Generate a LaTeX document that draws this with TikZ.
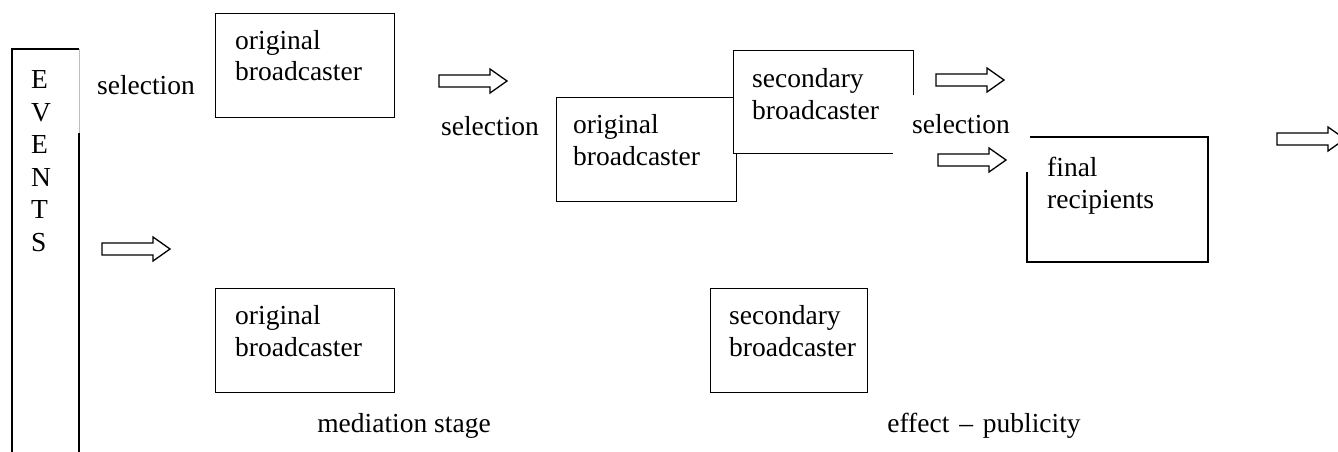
\documentclass[tikz,border=0pt]{standalone}
\usepackage{fontspec}
\setmainfont{Liberation Serif}
\begin{document}
\begin{tikzpicture}[x=1pt,y=-1pt,
  every node/.style={font=\fontsize{27.5}{32}\selectfont, inner sep=0pt},
  box/.style={draw, line width=1.3pt, fill=white, rectangle, anchor=north west, inner sep=0pt},
  txt/.style={anchor=base west, align=left},
  lab/.style={anchor=base},
  blockarrow/.pic={\draw[line width=1.3pt, line join=miter] (0,-6) -- (51,-6) -- (51,-12) -- (68,0) -- (51,12) -- (51,6) -- (0,6) -- cycle;}]
\useasboundingbox (0,0) rectangle (1338,452);
% EVENTS column
\draw[line width=1.3pt] (12,452) -- (12,49) -- (79,49);
\draw[line width=0.6pt, black!25] (79,49) -- (79,133);
\draw[line width=1.3pt] (79,133) -- (79,452);
\node[txt, font=\fontsize{27.5}{32.5}\selectfont] (events) at (31,251) {E\\V\\E\\N\\T\\S};
\pic at (102,249) {blockarrow};
\node[lab] (sel1) at (146,94) {selection};
% top original broadcaster
\node[box, minimum width=179, minimum height=104] (ob1) at (215,13) {};
\node[txt] (ob1t) at (235,81) {original\\broadcaster};
\pic at (439,81) {blockarrow};
\node[lab] (sel2) at (490,135) {selection};
% middle original broadcaster and secondary broadcaster
\node[box, minimum width=180, minimum height=104] (ob2) at (556,97) {};
\node[txt] (ob2t) at (573,165) {original\\broadcaster};
\node[box, minimum width=180, minimum height=103] (sb1) at (733,50) {};
\node[txt] (sb1t) at (752,119) {secondary\\broadcaster};
\fill[white] (893,95) rectangle (1014,157);
\node[anchor=base west] (sel3) at (912,133) {selection};
\pic at (936,80) {blockarrow};
\pic at (938,160) {blockarrow};
% final recipients
\draw[line width=1.3pt] (1030,137) -- (1208,137) -- (1208,262) -- (1027,262) -- (1027,172);
\node[txt] (fr) at (1047,208) {final\\recipients};
\pic at (1277,139) {blockarrow};
% bottom row
\node[box, minimum width=179, minimum height=104] (ob3) at (215,288) {};
\node[txt] (ob3t) at (235,356) {original\\broadcaster};
\node[box, minimum width=157, minimum height=104] (sb2) at (710,288) {};
\node[txt] (sb2t) at (729,356) {secondary\\broadcaster};
\node[lab] (med) at (404,432) {mediation stage};
\node[lab] (eff) at (984,432) {effect\hspace{3pt} --\hspace{3pt} publicity};
\end{tikzpicture}
\end{document}
